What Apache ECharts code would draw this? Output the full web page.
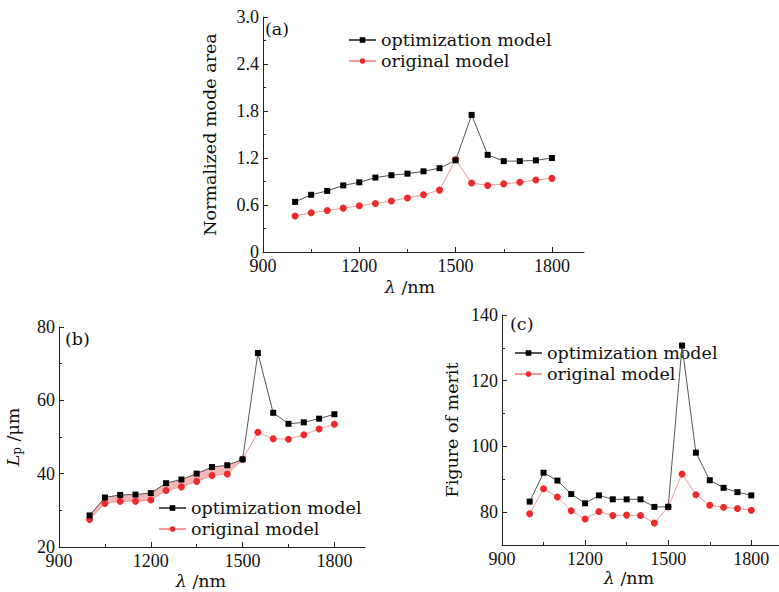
<!DOCTYPE html>
<html>
<head>
<meta charset="utf-8">
<script src="https://cdn.jsdelivr.net/npm/echarts@6/dist/echarts.min.js"></script>
<style>
  html, body { margin: 0; padding: 0; background: #fff; }
  #main { width: 779px; height: 592px; }
</style>
</head>
<body>
<div id="main"></div>
<script>
// wavelength (nm)
const wavelength = [1000, 1050, 1100, 1150, 1200, 1250, 1300, 1350, 1400, 1450, 1500, 1550, 1600, 1650, 1700, 1750, 1800];

// (a) normalized mode area
const areaOpt  = [0.64, 0.73, 0.78, 0.85, 0.89, 0.95, 0.98, 1.00, 1.03, 1.07, 1.17, 1.75, 1.24, 1.16, 1.16, 1.17, 1.20];
const areaOrig = [0.46, 0.50, 0.53, 0.56, 0.59, 0.62, 0.65, 0.69, 0.73, 0.79, 1.18, 0.88, 0.85, 0.87, 0.89, 0.92, 0.94];

// (b) propagation length Lp (um)
const lpOpt  = [28.6, 33.5, 34.2, 34.3, 34.7, 37.4, 38.4, 40.0, 41.8, 42.3, 43.9, 72.9, 56.6, 53.6, 54.0, 55.0, 56.2];
const lpOrig = [27.5, 31.9, 32.5, 32.5, 32.8, 35.4, 36.4, 37.9, 39.5, 39.9, 43.9, 51.3, 49.5, 49.4, 50.6, 52.2, 53.5];

// (c) figure of merit
const fomOpt  = [83.2, 92.0, 89.6, 85.5, 82.7, 85.1, 83.9, 83.9, 83.9, 81.6, 81.6, 130.7, 98.1, 89.7, 87.4, 86.1, 85.1];
const fomOrig = [79.5, 87.1, 84.6, 80.4, 77.9, 80.2, 79.0, 79.1, 79.0, 76.7, 81.6, 91.6, 85.3, 82.1, 81.5, 81.1, 80.6];

// tick labels
const xTicks = [900, 1200, 1500, 1800];
const xMinor = [1050, 1350, 1650];
const areaTicks = [0, 0.6, 1.2, 1.8, 2.4, 3.0];
const areaMinor = [0.3, 0.9, 1.5, 2.1, 2.7];
const lpTicks = [20, 40, 60, 80];
const lpMinor = [30, 50, 70];
const fomTicks = [80, 100, 120, 140];
const fomMinor = [90, 110, 130];

const names = ['optimization model', 'original model'];
const serif = 'DejaVu Serif';
const numFont = 'Liberation Serif';
const nameSize = 17.5;

let chart = echarts.init(document.getElementById('main'), null, {renderer: 'svg'});

function pairs(ys) {
  return wavelength.map((x, i) => [x, ys[i]]);
}

let grids = [
  {left: 263, top: 17, width: 321, height: 235},
  {left: 59, top: 327, width: 306, height: 220},
  {left: 502, top: 315, width: 283, height: 230}
];

let panels = [
  {yMin: 0, yMax: 3, ticks: areaTicks, minor: areaMinor, name: 'Normalized mode area', gap: 44, xPad: 27, xGap: 26,
   fmt: v => v === 0 ? '0' : v.toFixed(1)},
  {yMin: 20, yMax: 80, ticks: lpTicks, minor: lpMinor, name: '{l|L}{p|p}{t| /μm}', gap: 36, xPad: 22, xGap: 25,
   fmt: v => String(v)},
  {yMin: 70, yMax: 140, ticks: fomTicks, minor: fomMinor, name: 'Figure of merit', gap: 41, xPad: 23, xGap: 22,
   fmt: v => String(v)}
];

let xAxes = [], yAxes = [];
panels.forEach((p, g) => {
  xAxes.push({
    type: 'value', gridIndex: g, min: 900, max: 1900,
    name: '{i|λ} /nm', nameLocation: 'middle', nameGap: p.xGap,
    nameTextStyle: {fontFamily: serif, fontSize: nameSize, color: '#111', padding: [0, p.xPad, 0, 0],
      rich: {i: {fontFamily: serif, fontSize: nameSize, fontStyle: 'italic', color: '#111'}}},
    axisLine: {show: true, lineStyle: {color: '#222', width: 1}},
    axisTick: {show: true, inside: true, length: 5, customValues: xTicks, lineStyle: {color: '#222'}},
    axisLabel: {customValues: xTicks, margin: 5, fontFamily: numFont, fontSize: 18, color: '#111',
      formatter: v => String(v)},
    splitLine: {show: false}
  });
  xAxes.push({
    type: 'value', gridIndex: g, min: 900, max: 1900, position: 'bottom',
    axisLine: {show: false},
    axisTick: {show: true, inside: true, length: 3, customValues: xMinor, lineStyle: {color: '#222'}},
    axisLabel: {show: false}, splitLine: {show: false}
  });
  yAxes.push({
    type: 'value', gridIndex: g, min: p.yMin, max: p.yMax,
    name: p.name, nameLocation: 'middle', nameGap: p.gap,
    nameTextStyle: {fontFamily: serif, fontSize: nameSize, color: '#111',
      rich: {
        l: {fontFamily: serif, fontSize: nameSize, fontStyle: 'italic', color: '#111'},
        p: {fontFamily: serif, fontSize: 12, color: '#111', padding: [9, 0, 0, 0]},
        t: {fontFamily: serif, fontSize: nameSize, color: '#111'}
      }},
    axisLine: {show: true, lineStyle: {color: '#222', width: 1}},
    axisTick: {show: true, inside: true, length: 5, customValues: p.ticks, lineStyle: {color: '#222'}},
    axisLabel: {customValues: p.ticks, margin: 4, fontFamily: numFont, fontSize: 18, color: '#111', formatter: p.fmt},
    splitLine: {show: false}
  });
  yAxes.push({
    type: 'value', gridIndex: g, min: p.yMin, max: p.yMax, position: 'left',
    axisLine: {show: false},
    axisTick: {show: true, inside: true, length: 3, customValues: p.minor, lineStyle: {color: '#222'}},
    axisLabel: {show: false}, splitLine: {show: false}
  });
});

function optSeries(g, ys) {
  return {
    name: names[0], type: 'line', xAxisIndex: 2 * g, yAxisIndex: 2 * g,
    data: pairs(ys), symbol: 'rect', symbolSize: 6,
    lineStyle: {color: '#555', width: 1}, itemStyle: {color: '#000'}, z: 4
  };
}
function origSeries(g, ys) {
  return {
    name: names[1], type: 'line', xAxisIndex: 2 * g, yAxisIndex: 2 * g,
    data: pairs(ys), symbol: 'circle', symbolSize: 7,
    lineStyle: {color: '#f59a9a', width: 1}, itemStyle: {color: '#ee2a2a'}, z: 3
  };
}

// shaded band in (b) between the two curves up to 1500 nm, one quad per segment
let bandData = [];
for (let i = 0; i + 1 < wavelength.length && wavelength[i + 1] <= 1500; i++) {
  bandData.push([wavelength[i], wavelength[i + 1], lpOpt[i], lpOpt[i + 1], lpOrig[i], lpOrig[i + 1]]);
}

let series = [
  {
    name: 'band', type: 'custom', xAxisIndex: 2, yAxisIndex: 2, silent: true, z: 1,
    data: bandData,
    encode: {x: [0, 1], y: [2, 3, 4, 5]},
    renderItem: function (params, api) {
      let a = api.coord([api.value(0), api.value(2)]);
      let b = api.coord([api.value(1), api.value(3)]);
      let c = api.coord([api.value(1), api.value(5)]);
      let d = api.coord([api.value(0), api.value(4)]);
      return {
        type: 'polygon',
        shape: {points: [a, b, c, d]},
        style: {fill: '#f5b8b8', stroke: '#f5b8b8', lineWidth: 0.6}
      };
    }
  },
  optSeries(0, areaOpt), origSeries(0, areaOrig),
  optSeries(1, lpOpt), origSeries(1, lpOrig),
  optSeries(2, fomOpt), origSeries(2, fomOrig)
];

function legendAt(left, top) {
  return {
    data: names, orient: 'vertical', left: left, top: top, padding: 0,
    itemWidth: 27, itemHeight: 7, itemGap: 1, selectedMode: false,
    textStyle: {fontFamily: serif, fontSize: nameSize, color: '#111', lineHeight: 20}
  };
}

function label(text, left, top) {
  return {text: text, left: left, top: top, padding: 0,
    textStyle: {fontFamily: serif, fontSize: nameSize, fontWeight: 'normal', color: '#111'}};
}

let option = {
  animation: false,
  backgroundColor: '#fff',
  title: [label('(a)', 265, 20), label('(b)', 65, 330), label('(c)', 510, 315)],
  legend: [legendAt(348, 30), legendAt(158, 498), legendAt(514, 343)],
  grid: grids,
  xAxis: xAxes,
  yAxis: yAxes,
  series: series
};

chart.setOption(option);
</script>
</body>
</html>
